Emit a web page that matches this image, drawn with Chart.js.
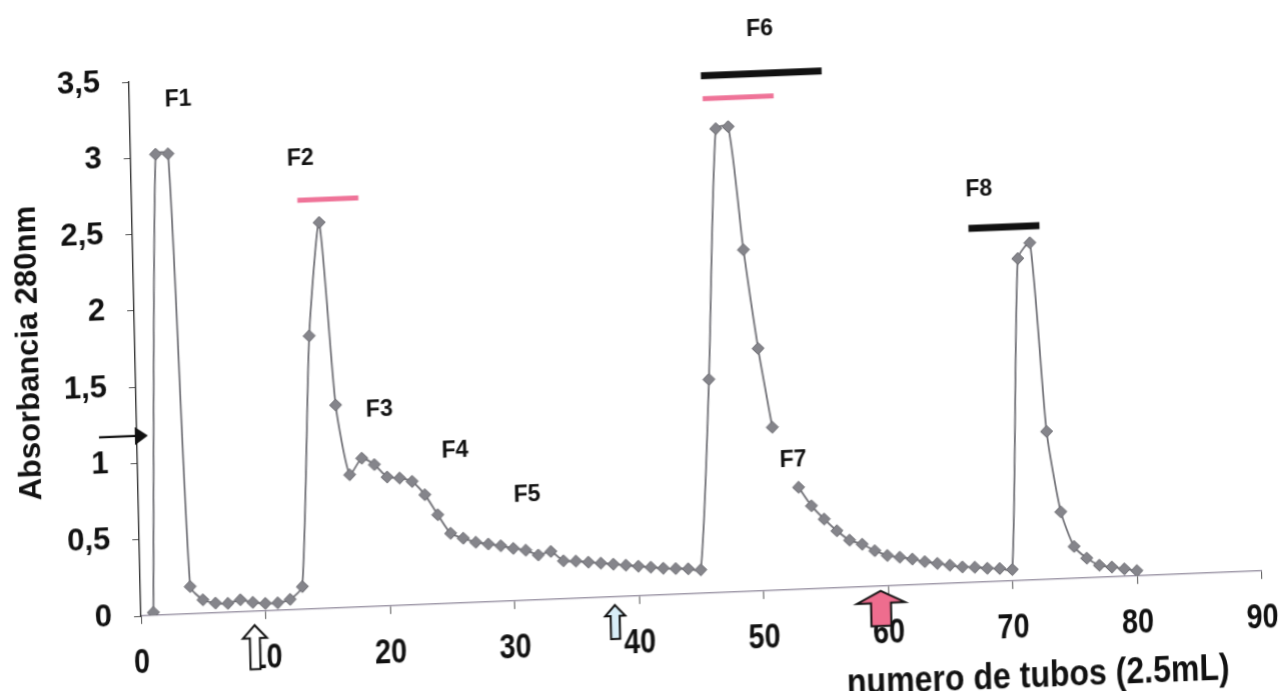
<!doctype html>
<html lang="es"><head><meta charset="utf-8">
<title>Absorbancia 280nm · numero de tubos</title>
<script src="https://cdn.jsdelivr.net/npm/chart.js@4.4.0/dist/chart.umd.min.js"></script>
<style>
  html,body{margin:0;padding:0;background:#fff;overflow:hidden}
  #wrap{position:relative;width:1282px;height:691px;overflow:hidden;background:#fff}
  /* the scanned figure is slightly tilted: x axis rises to the right, y axis leans left */
  #c{position:absolute;left:0;top:0;transform-origin:141px 616px;transform:matrix(1,-0.0402,0.0225,1,0,0)}
</style></head><body>
<div id="wrap"><canvas id="c" width="1282" height="760"></canvas></div>
<script>
// tubo -> absorbancia 280nm (tubo 52 sin lectura)
const tubes = [
  1, 2, 3, 4, 5, 6, 7, 8, 9, 10, 11, 12, 13, 14, 15, 16, 17, 18, 19, 20,
  21, 22, 23, 24, 25, 26, 27, 28, 29, 30, 31, 32, 33, 34, 35, 36, 37, 38, 39, 40,
  41, 42, 43, 44, 45, 46, 47, 48, 49, 50, 51, 52, 53, 54, 55, 56, 57, 58, 59, 60,
  61, 62, 63, 64, 65, 66, 67, 68, 69, 70, 71, 72, 73, 74, 75, 76, 77, 78, 79, 80
];
const absorbance = [
  0.02, 3.02, 3.02, 0.18, 0.09, 0.065, 0.06, 0.08, 0.06, 0.05, 0.05, 0.07, 0.15, 1.79, 2.53, 1.33, 0.87, 0.975, 0.93, 0.845,
  0.835, 0.81, 0.72, 0.585, 0.46, 0.425, 0.395, 0.38, 0.365, 0.345, 0.33, 0.295, 0.315, 0.25, 0.245, 0.235, 0.225, 0.215, 0.205, 0.195,
  0.185, 0.175, 0.17, 0.165, 0.155, 1.40, 3.04, 3.05, 2.24, 1.59, 1.07, null, 0.67, 0.545, 0.455, 0.375, 0.31, 0.28, 0.235, 0.2,
  0.185, 0.17, 0.15, 0.135, 0.12, 0.105, 0.1, 0.09, 0.085, 0.075, 2.11, 2.21, 0.97, 0.44, 0.21, 0.13, 0.08, 0.065, 0.05, 0.035
];
const xTicks = [0, 10, 20, 30, 40, 50, 60, 70, 80, 90];
const yTicks = [0, 0.5, 1, 1.5, 2, 2.5, 3, 3.5];

// fracciones (etiqueta en tubo / absorbancia)
const fracNames = ['F1', 'F2', 'F3', 'F4', 'F5', 'F6', 'F7', 'F8'];
const fracTube  = [3.9, 13.6, 19.5, 25.5, 31.2, 50.7, 52.6, 68.0];
const fracAbs   = [3.37, 2.95, 1.29, 1.0, 0.69, 3.68, 0.85, 2.57];

// barras de fracciones reunidas
const barFrom = [13.3, 45.9, 46.0, 67.1];
const barTo   = [18.2, 55.6, 51.7, 72.8];
const barAbs  = [2.68, 3.39, 3.24, 2.32];
const barKind = ['pink', 'black', 'pink', 'black'];

// flechas bajo el eje x (punta en tubo / absorbancia)
const upArrowTube = [9.1, 38.05, 59.4];
const upArrowAbs  = [-0.09, -0.053, -0.031];
const upArrowKind = ['white', 'blue', 'pink'];
// flecha negra junto al eje y
const sideArrowTube = [-3.05, 0.88];
const sideArrowAbs  = 1.18;

const FONT = '"Liberation Sans", Arial, sans-serif';
const barStyle = { pink: { color: '#ef7398', width: 5 }, black: { color: '#111', width: 7 } };
const arrowStyle = {
  white: { fill: '#ffffff', len: 44, head: 24, headH: 13, shaft: 10 },
  blue:  { fill: '#d8eef8', len: 34, head: 20, headH: 11, shaft: 9 },
  pink:  { fill: '#ee6d8e', len: 35, head: 48, headH: 12, shaft: 20 }
};

function upArrow(ctx, px, py, s) {
  const hw = s.head / 2, sw = s.shaft / 2;
  ctx.beginPath();
  ctx.moveTo(px, py);
  ctx.lineTo(px + hw, py + s.headH);
  ctx.lineTo(px + sw, py + s.headH);
  ctx.lineTo(px + sw, py + s.len);
  ctx.lineTo(px - sw, py + s.len);
  ctx.lineTo(px - sw, py + s.headH);
  ctx.lineTo(px - hw, py + s.headH);
  ctx.closePath();
  ctx.fillStyle = s.fill; ctx.fill();
  ctx.strokeStyle = '#111'; ctx.lineWidth = 2; ctx.stroke();
}

// texto estrecho (el original usa una fuente condensada)
function narrowText(ctx, text, px, py, size, sx) {
  ctx.save();
  ctx.translate(px, py); ctx.scale(sx, 1);
  ctx.font = 'bold ' + size + 'px ' + FONT;
  ctx.fillText(text, 0, 0);
  ctx.restore();
}

const annotations = {
  id: 'annotations',
  afterDraw(chart) {
    const { ctx, scales: { x, y } } = chart;
    ctx.save();
    // etiquetas del eje x
    ctx.fillStyle = '#111'; ctx.textAlign = 'center'; ctx.textBaseline = 'middle';
    const axisY = y.getPixelForValue(0);
    xTicks.forEach(v => narrowText(ctx, String(v), x.getPixelForValue(v), axisY + 47, 35, 0.82));
    // barras
    barFrom.forEach((f, i) => {
      const st = barStyle[barKind[i]];
      ctx.strokeStyle = st.color; ctx.lineWidth = st.width; ctx.lineCap = 'butt';
      ctx.beginPath();
      ctx.moveTo(x.getPixelForValue(f), y.getPixelForValue(barAbs[i]));
      ctx.lineTo(x.getPixelForValue(barTo[i]), y.getPixelForValue(barAbs[i]));
      ctx.stroke();
    });
    // etiquetas F1..F8
    ctx.font = 'bold 23px ' + FONT;
    ctx.fillStyle = '#111';
    fracNames.forEach((t, i) => ctx.fillText(t, x.getPixelForValue(fracTube[i]), y.getPixelForValue(fracAbs[i])));
    // flecha lateral
    const ax0 = x.getPixelForValue(sideArrowTube[0]), ax1 = x.getPixelForValue(sideArrowTube[1]);
    const ay = y.getPixelForValue(sideArrowAbs);
    ctx.strokeStyle = '#111'; ctx.lineWidth = 2.2;
    ctx.beginPath(); ctx.moveTo(ax0, ay); ctx.lineTo(ax1 - 10, ay); ctx.stroke();
    ctx.beginPath(); ctx.moveTo(ax1, ay); ctx.lineTo(ax1 - 13, ay - 9); ctx.lineTo(ax1 - 13, ay + 9); ctx.closePath(); ctx.fill();
    // flechas hacia arriba
    upArrowTube.forEach((t, i) => upArrow(ctx, x.getPixelForValue(t), y.getPixelForValue(upArrowAbs[i]), arrowStyle[upArrowKind[i]]));
    // titulo del eje x
    ctx.fillStyle = '#111';
    narrowText(ctx, 'numero de tubos (2.5mL)', x.getPixelForValue(71.9), y.getPixelForValue(-0.636), 36, 0.89);
    ctx.restore();
  }
};

new Chart(document.getElementById('c'), {
  type: 'line',
  data: {
    datasets: [{
      data: tubes.map((t, i) => ({ x: t, y: absorbance[i] })),
      borderColor: '#707076',
      borderWidth: 1.8,
      tension: 0.2,
      spanGaps: false,
      pointStyle: 'rectRot',
      pointRadius: 6,
      pointBackgroundColor: '#85858b',
      pointBorderColor: '#68686e',
      pointBorderWidth: 1
    }]
  },
  options: {
    responsive: false,
    animation: false,
    events: [],
    layout: { autoPadding: false, padding: { left: 0, top: 82, right: 20.5, bottom: 0 } },
    plugins: { legend: { display: false }, tooltip: { enabled: false } },
    scales: {
      x: {
        type: 'linear', min: 0, max: 90,
        afterFit: s => { s.height = 144; s.paddingLeft = 0; s.paddingRight = 0; },
        afterBuildTicks: s => { s.ticks = xTicks.map(v => ({ value: v })); },
        border: { display: true, color: '#8d8598', width: 1.3 },
        grid: { display: true, drawOnChartArea: false, drawTicks: true, tickLength: 8, color: '#555' },
        ticks: { display: false }
      },
      y: {
        min: 0, max: 3.5,
        afterFit: s => { s.width = 141; },
        afterBuildTicks: s => { s.ticks = yTicks.map(v => ({ value: v })); },
        border: { display: true, color: '#222', width: 1.3 },
        grid: { display: true, drawOnChartArea: false, drawTicks: true, tickLength: 7, color: '#555' },
        ticks: {
          color: '#111', padding: 22,
          font: { family: FONT, size: 31, weight: 'bold' },
          callback: v => String(v).replace('.', ',')
        },
        title: {
          display: true, text: 'Absorbancia 280nm', color: '#111',
          font: { family: FONT, size: 31, weight: 'bold' },
          padding: { top: 17, bottom: 0 }
        }
      }
    }
  },
  plugins: [annotations]
});
</script>
</body></html>
